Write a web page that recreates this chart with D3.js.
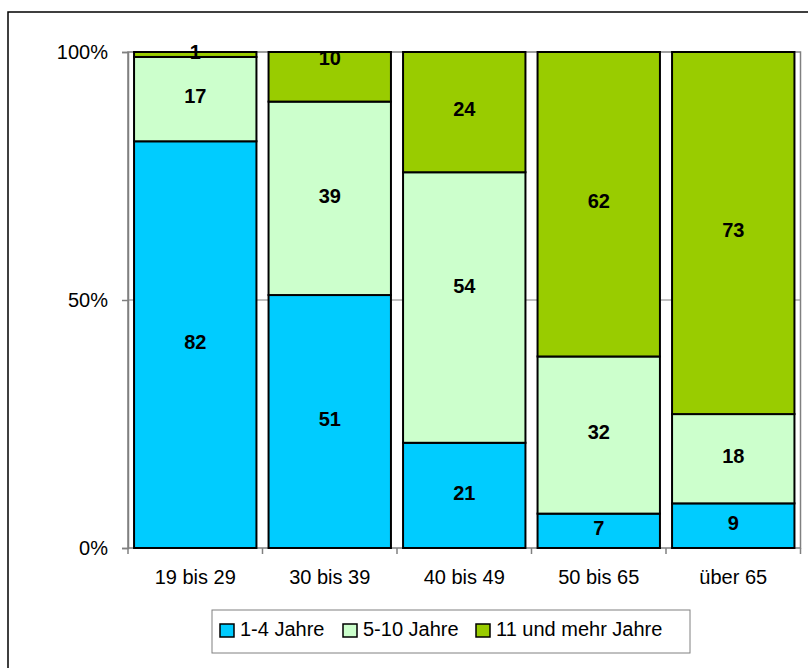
<!DOCTYPE html>
<html><head><meta charset="utf-8">
<script src="https://cdn.jsdelivr.net/npm/d3@7"></script>
<style>body{margin:0;background:#fff}svg{display:block;font-family:Arial,"Liberation Sans",sans-serif}</style>
</head><body>
<svg id="c" width="808" height="668"></svg>
<script>
const categories = ["19 bis 29","30 bis 39","40 bis 49","50 bis 65","über 65"];
const seriesNames = ["1-4 Jahre","5-10 Jahre","11 und mehr Jahre"];
const s1 = [82,51,21,7,9];
const s2 = [17,39,54,32,18];
const s3 = [1,10,24,62,73];
const yTicks = [0,0.5,1];
const colors = ["#00CCFF","#CCFFCC","#99CC00"];
// label placement quirks seen in the original (pixels, style only)
const labelNudge = {"30 bis 39|11 und mehr Jahre": -16, "40 bis 49|5-10 Jahre": -19};

const svg = d3.select("#c");
svg.append("rect").attr("x",8).attr("y",12).attr("width",1000).attr("height",1000)
  .attr("fill","#fff").attr("stroke","#000").attr("stroke-width",1.5);

const L=128,R=800.5,T=52,B=548;
const x = d3.scaleBand().domain(categories).range([L,R]).paddingInner(0.09).paddingOuter(0.045);
const y = d3.scaleLinear().domain([0,1]).range([B,T]);

// gridline at 50%
svg.append("g").selectAll("line").data(yTicks.filter(t=>t>0&&t<1)).join("line")
  .attr("x1",L).attr("x2",R).attr("y1",d=>y(d)).attr("y2",d=>y(d))
  .attr("stroke","#808080").attr("stroke-width",1);

// plot border (gray)
svg.append("rect").attr("x",L).attr("y",T).attr("width",R-L).attr("height",B-T)
  .attr("fill","none").attr("stroke","#808080").attr("stroke-width",1.5);

const data = categories.map((c,i)=>{
  const vals=[s1[i],s2[i],s3[i]]; const tot=d3.sum(vals);
  const o={cat:c}; seriesNames.forEach((n,j)=>o[n]=vals[j]/tot); o.raw=vals; return o;
});
const stack = d3.stack().keys(seriesNames)(data);

const g = svg.append("g");
stack.forEach((layer,j)=>{
  layer.forEach((d,i)=>{
    g.append("rect").attr("x",x(categories[i])).attr("width",x.bandwidth())
      .attr("y",y(d[1])).attr("height",y(d[0])-y(d[1]))
      .attr("fill",colors[j]).attr("stroke","#000").attr("stroke-width",2);
  });
});
stack.forEach((layer,j)=>{
  layer.forEach((d,i)=>{
    const nud = labelNudge[categories[i]+"|"+seriesNames[j]]||0;
    g.append("text").attr("x",x(categories[i])+x.bandwidth()/2)
      .attr("y",(y(d[0])+y(d[1]))/2 - 3 + nud).attr("dy","0.36em")
      .attr("text-anchor","middle").attr("font-weight","bold").attr("font-size",20)
      .attr("fill","#000").text(data[i].raw[j]);
  });
});

// y axis
const ya = svg.append("g").attr("transform",`translate(${L},0)`)
  .call(d3.axisLeft(y).tickValues(yTicks).tickFormat(d3.format(".0%")).tickSize(6).tickPadding(14));
ya.select(".domain").attr("stroke","#808080").attr("stroke-width",1.5);
ya.selectAll(".tick line").attr("stroke","#808080").attr("stroke-width",1.5);
ya.selectAll("text").attr("font-size",20).attr("fill","#000").attr("font-family","Arial,'Liberation Sans',sans-serif");

// x axis
const xa = svg.append("g").attr("transform",`translate(0,${B})`)
  .call(d3.axisBottom(x).tickSize(0).tickPadding(22));
xa.select(".domain").remove();
xa.selectAll("text").attr("font-size",20).attr("fill","#000").attr("font-family","Arial,'Liberation Sans',sans-serif");
const seps = categories.map((c,i)=>i===0?L:x(c)-x.step()*x.paddingInner()/2).concat([R]);
svg.append("g").selectAll("line").data(seps).join("line")
  .attr("x1",d=>d).attr("x2",d=>d).attr("y1",B).attr("y2",B+6)
  .attr("stroke","#808080").attr("stroke-width",1.5);

// legend
const lg = svg.append("g");
lg.append("rect").attr("x",212).attr("y",610).attr("width",478).attr("height",43)
  .attr("fill","#fff").attr("stroke","#808080").attr("stroke-width",1);
const lx=[220,343,476];
seriesNames.forEach((n,j)=>{
  lg.append("rect").attr("x",lx[j]).attr("y",624).attr("width",14).attr("height",13)
    .attr("fill",colors[j]).attr("stroke","#000").attr("stroke-width",1.5);
  lg.append("text").attr("x",lx[j]+20).attr("y",636).attr("font-size",20).attr("fill","#000").text(n);
});
</script>
</body></html>
